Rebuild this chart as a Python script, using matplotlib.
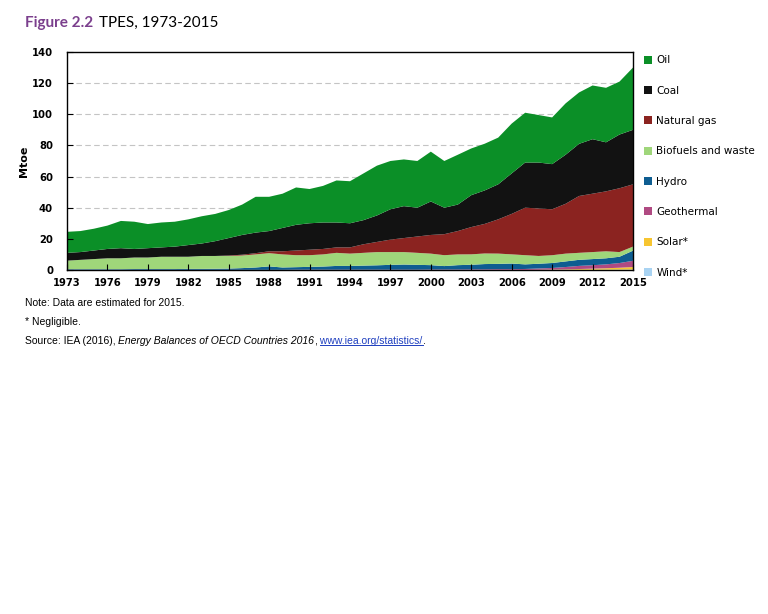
import numpy as np
import matplotlib
matplotlib.use("Agg")
import matplotlib.pyplot as plt
from matplotlib.lines import Line2D

years = list(range(1973, 2016))

# Mtoe by source
oil = [13.5, 13.5, 14, 15, 17.5, 17.5, 15.5, 16, 16, 16.5, 17.5, 17.5, 18,
       19.5, 23, 22, 22, 24, 22, 23.5, 27, 27, 30, 32, 31, 30, 30, 32, 30,
       32, 30, 30, 30, 32, 32, 30.5, 30, 33, 33, 34.5, 35, 34, 40]
coal = [5, 5, 5.5, 6, 6.5, 5.5, 6, 6, 6.5, 7.5, 8, 9.5, 11.2,
        12.7, 13.2, 13, 15, 16.5, 17, 17, 16, 15.5, 15.5, 17, 19.5, 20.5, 18.5,
        21.5, 17, 17, 20.5, 21.5, 22.5, 26, 29, 29.5, 29, 31.5, 33.5, 35, 31.5,
        34.5, 35]
gas = [0, 0, 0, 0, 0, 0, 0, 0, 0, 0, 0, 0, 0.3,
       0.5, 0.8, 1.2, 2, 3, 3.5, 3.5, 3.5, 4, 5.5, 6.5, 8, 9, 10.5, 12, 13.5,
       15, 17.5, 19, 22, 26, 30.5, 30.5, 29.5, 32, 36.5, 37.5, 38.5, 41, 40]
biofuels = [5.5, 6, 6.5, 7, 7, 7.4, 7.4, 7.9, 7.9, 7.8, 8.3, 8.2, 8.1,
            8.1, 8.4, 8.5, 8.4, 7.7, 7.5, 7.8, 8.4, 7.9, 8.2, 8.5, 8.2, 8, 7.7,
            7.4, 7, 6.9, 6.7, 6.8, 6.6, 5.9, 5.9, 5, 5, 5, 4.5, 4.5, 4.5, 3, 2.6]
hydro = [0.4, 0.4, 0.4, 0.4, 0.4, 0.5, 0.5, 0.5, 0.5, 0.6, 0.6, 0.7, 0.8,
         1.1, 1.5, 2.2, 1.5, 1.6, 1.8, 2, 2.4, 2.4, 2.6, 2.8, 3.1, 3.3, 3.1,
         2.8, 2.2, 2.8, 3, 3.4, 3.4, 3.6, 2.95, 3.05, 3.2, 3.6, 3.9, 3.95, 3.9,
         4.05, 6.5]
geothermal = [0.1] * 17 + [0.2] * 10 + [0.3, 0.3, 0.3, 0.35, 0.4,
              0.5, 0.5, 0.6, 0.8, 1.0, 1.5, 2.0, 2.2, 2.5, 3.0, 4.0]
solar = [0] * 35 + [0.1, 0.2, 0.3, 0.5, 0.7, 0.9, 1.2, 1.6]
wind = [0] * 32 + [0.02, 0.03, 0.05, 0.05, 0.08, 0.1, 0.12, 0.15, 0.2,
                   0.25, 0.3]

names = ["Wind*", "Solar*", "Geothermal", "Hydro", "Biofuels and waste",
         "Natural gas", "Coal", "Oil"]
colors = ["#a9d3f2", "#f7c531", "#b04a82", "#0e5d91", "#9fd67a",
          "#8b2320", "#121212", "#0b8f27"]

fig = plt.figure(figsize=(7.68, 6.14), dpi=100)
ax = fig.add_axes([0.0872, 0.5603, 0.737, 0.355])

ax.stackplot(years, wind, solar, geothermal, hydro, biofuels, gas, coal, oil,
             colors=colors, labels=names, linewidth=0)

ax.set_xlim(1973, 2015)
ax.set_ylim(0, 140)
ax.set_yticks(range(0, 141, 20))
ax.set_xticks(range(1973, 2016, 3))
for y in range(20, 140, 20):
    ax.axhline(y, color="#c4c4c4", lw=0.8, ls=(0, (5, 3)), zorder=0)
ax.tick_params(direction="in", length=4, width=0.8, labelsize=8)
ax.tick_params(axis="x", pad=6)
ax.tick_params(axis="y", pad=10)
for lab in ax.get_xticklabels() + ax.get_yticklabels():
    lab.set_fontweight("bold")
    lab.set_fontstretch("condensed")
for s in ax.spines.values():
    s.set_linewidth(1.0)
ax.set_ylabel("Mtoe", fontsize=8, fontweight="bold", labelpad=2)

h, l = ax.get_legend_handles_labels()
leg = fig.legend(h[::-1], l[::-1], loc="upper left",
                 bbox_to_anchor=(0.826, 0.925), frameon=False, fontsize=7.5,
                 handlelength=0.8, handleheight=0.8, handletextpad=0.4,
                 labelspacing=1.95)

# title
fig.canvas.draw()
r = fig.canvas.get_renderer()
t1 = fig.text(25 / 768, 1 - 23 / 614, "Figure 2.2", fontsize=11,
              fontweight="bold", color="#7b3f8d", va="center", family="Lato")
bb = t1.get_window_extent(r)
fig.text((bb.x1 + 6) / 768, 1 - 23 / 614, "TPES, 1973-2015", fontsize=11,
         va="center", family="Lato")

# notes
nf = "Liberation Sans"
fig.text(25 / 768, 1 - 303 / 614, "Note: Data are estimated for 2015.",
         fontsize=7.5, family=nf, va="center")
fig.text(25 / 768, 1 - 322 / 614, "* Negligible.", fontsize=7.5, family=nf,
         va="center")
yy = 1 - 341 / 614
x = 25
for txt, kw in [("Source: IEA (2016), ", {}),
                ("Energy Balances of OECD Countries 2016", {"style": "italic"}),
                (",", {}),
                (" www.iea.org/statistics/", {"color": "#1f3fbf"}),
                (".", {})]:
    t = fig.text(x / 768, yy, txt, fontsize=7.5, family=nf, va="center", **kw)
    b = t.get_window_extent(r)
    if txt.startswith(" www"):
        x0 = b.x0 + 3
        fig.add_artist(Line2D([x0 / 768, b.x1 / 768],
                              [(b.y0 + 1.5) / 614, (b.y0 + 1.5) / 614],
                              color="#1f3fbf", lw=0.7))
    x = b.x1

fig.savefig("out.png", dpi=100)
